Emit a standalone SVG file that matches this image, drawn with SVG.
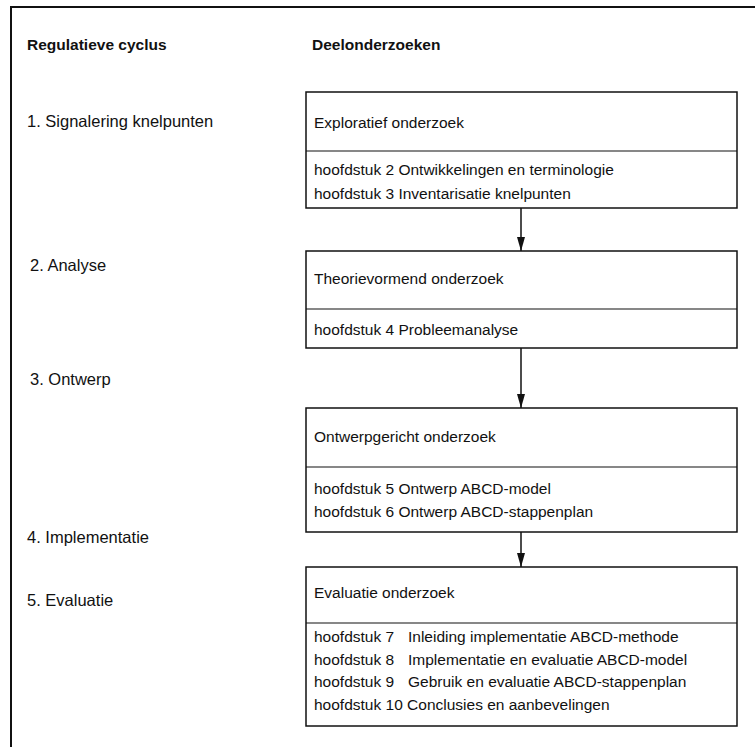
<svg xmlns="http://www.w3.org/2000/svg" width="755" height="747" viewBox="0 0 755 747">
<defs>
<style>
text{font-family:"Liberation Sans",Arial,sans-serif;font-size:15.5px;fill:#111}
.l{font-size:16.5px}
.h{font-weight:bold;font-size:15.5px}
.box{fill:#fff;stroke:#111;stroke-width:1.5}
.div{stroke:#111;stroke-width:1.2}
.con{stroke:#111;stroke-width:1.5;fill:none}
</style>
<marker id="arr" viewBox="0 0 14 8" refX="14" refY="4" markerWidth="14" markerHeight="8" markerUnits="userSpaceOnUse" orient="auto"><path d="M0,0 L14,4 L0,8 Z" fill="#111"/></marker>
</defs>
<rect width="755" height="747" fill="#fff"/>
<path d="M11,747 V7 H755" fill="none" stroke="#111" stroke-width="2"/>
<g id="headers">
<text class="h" x="27" y="50">Regulatieve cyclus</text>
<text class="h" x="312" y="50">Deelonderzoeken</text>
</g>
<g id="cycle">
<text class="l" x="27" y="127">1. Signalering knelpunten</text>
<text class="l" x="30" y="271">2. Analyse</text>
<text class="l" x="30" y="385">3. Ontwerp</text>
<text class="l" x="27" y="543">4. Implementatie</text>
<text class="l" x="27" y="606">5. Evaluatie</text>
</g>
<g id="connectors">
<line class="con" x1="521" y1="208" x2="521" y2="251" marker-end="url(#arr)"/>
<line class="con" x1="521" y1="348" x2="521" y2="408" marker-end="url(#arr)"/>
<line class="con" x1="521" y1="532" x2="521" y2="567" marker-end="url(#arr)"/>
</g>
<g id="box1">
<rect class="box" x="306" y="92" width="431" height="116"/>
<line class="div" x1="306" y1="151" x2="737" y2="151"/>
<text x="314" y="128">Exploratief onderzoek</text>
<text x="314" y="175">hoofdstuk 2 Ontwikkelingen en terminologie</text>
<text x="314" y="199">hoofdstuk 3 Inventarisatie knelpunten</text>
</g>
<g id="box2">
<rect class="box" x="306" y="251" width="431" height="97"/>
<line class="div" x1="306" y1="309" x2="737" y2="309"/>
<text x="314" y="284">Theorievormend onderzoek</text>
<text x="314" y="335">hoofdstuk 4 Probleemanalyse</text>
</g>
<g id="box3">
<rect class="box" x="306" y="408" width="431" height="124"/>
<line class="div" x1="306" y1="467" x2="737" y2="467"/>
<text x="314" y="442">Ontwerpgericht onderzoek</text>
<text x="314" y="494">hoofdstuk 5 Ontwerp ABCD-model</text>
<text x="314" y="517">hoofdstuk 6 Ontwerp ABCD-stappenplan</text>
</g>
<g id="box4">
<rect class="box" x="306" y="567" width="431" height="159"/>
<line class="div" x1="306" y1="623" x2="737" y2="623"/>
<text x="314" y="598">Evaluatie onderzoek</text>
<text x="314" y="642">hoofdstuk 7</text><text x="408" y="642">Inleiding implementatie ABCD-methode</text>
<text x="314" y="665">hoofdstuk 8</text><text x="408" y="665">Implementatie en evaluatie ABCD-model</text>
<text x="314" y="687">hoofdstuk 9</text><text x="408" y="687">Gebruik en evaluatie ABCD-stappenplan</text>
<text x="314" y="710">hoofdstuk 10 Conclusies en aanbevelingen</text>
</g>
</svg>
